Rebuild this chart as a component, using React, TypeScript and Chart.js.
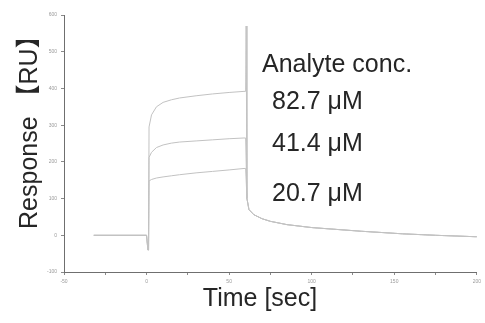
import React, { useEffect, useRef } from "react";
import { Chart, registerables } from "chart.js";

Chart.register(...registerables);

// Time axis ticks (sec) and response axis ticks (RU)
const xTickLabels = ["-50", "0", "50", "100", "150", "200"];
const yTickLabels = ["-100", "0", "100", "200", "300", "400", "500", "600"];

// Baseline before injection (sec, RU)
const baseTime = [-32, 0, 0.8, 1.2];
const baseResp = [0, 0, -40, -40];

// Association phase (sec)
const assocTime = [1.5, 3, 6, 10, 15, 20, 30, 40, 50, 59, 60];
const resp827 = [295, 328, 350, 362, 369, 374, 380, 385, 389, 392, 392];
const resp414 = [212, 226, 239, 246, 251, 254, 257, 260, 263, 265, 265];
const resp207 = [148, 152, 156, 159, 162, 165, 170, 174, 178, 182, 182];

// Injection-end spike on the top curve
const spikeTime = [60.3];
const spikeResp = [570];

// Dissociation phase (sec, RU)
const dissTime = [60.8, 62, 65, 70, 75, 85, 100, 115, 130, 155, 175, 200];
const dissResp = [100, 70, 56, 45, 38, 29, 21, 16, 11, 4, 0, -4];

const concLabels = ["82.7 \u03bcM", "41.4 \u03bcM", "20.7 \u03bcM"];
const annotationTitle = "Analyte conc.";

const FONT = 'Liberation Sans, Arial, "Noto Sans CJK JP", sans-serif';

function build(times: number[][], vals: number[][]) {
  const out: { x: number; y: number }[] = [];
  times.forEach((t, i) => t.forEach((x, j) => out.push({ x, y: vals[i][j] })));
  return out;
}

export default function App() {
  const ref = useRef<HTMLCanvasElement | null>(null);
  useEffect(() => {
    if (!ref.current) return;
    const lineColor = "#c2c2c2";
    const ds = (data: { x: number; y: number }[], label: string) => ({
      label,
      data,
      borderColor: lineColor,
      borderWidth: 1,
      pointRadius: 0,
      tension: 0,
      fill: false,
    });
    const annot = {
      id: "annot",
      afterDraw(chart: any) {
        const ctx = chart.ctx;
        ctx.save();
        ctx.fillStyle = "#262626";
        ctx.textBaseline = "alphabetic";
        ctx.textAlign = "left";
        ctx.font = `25px ${FONT}`;
        ctx.fillText(annotationTitle, 262, 72);
        ctx.fillText(concLabels[0], 272, 109);
        ctx.fillText(concLabels[1], 272, 151);
        ctx.fillText(concLabels[2], 272, 201);
        ctx.restore();
      },
    };
    const chart = new Chart(ref.current, {
      type: "line",
      data: {
        datasets: [
          ds(build([baseTime, assocTime, spikeTime, dissTime], [baseResp, resp827, spikeResp, dissResp]), concLabels[0]),
          ds(build([baseTime, assocTime, dissTime], [baseResp, resp414, dissResp]), concLabels[1]),
          ds(build([baseTime, assocTime, dissTime], [baseResp, resp207, dissResp]), concLabels[2]),
        ],
      },
      options: {
        responsive: false,
        animation: false,
        layout: { padding: { top: 15, right: 5, left: 0, bottom: 0 } },
        plugins: { legend: { display: false }, tooltip: { enabled: false } },
        scales: {
          x: {
            type: "linear",
            min: -50,
            max: 200,
            afterFit: (s: any) => { s.height = 51; },
            border: { color: "#6f6f6f", width: 1 },
            grid: { display: true, drawOnChartArea: false, drawTicks: true, tickLength: 3, color: "#8a8a8a" },
            ticks: {
              stepSize: 25,
              autoSkip: false,
              maxRotation: 0,
              padding: 4,
              color: "#9a9a9a",
              font: { size: 5, family: FONT },
              callback: (v: any) => (xTickLabels.includes(String(v)) ? String(v) : ""),
            },
            title: {
              display: true,
              text: "Time [sec]   ",
              color: "#262626",
              font: { size: 25, family: FONT },
              padding: { top: 0, bottom: 9 },
            },
          },
          y: {
            type: "linear",
            min: -100,
            max: 600,
            afterFit: (s: any) => { s.width = 64; },
            border: { color: "#6f6f6f", width: 1 },
            grid: { display: true, drawOnChartArea: false, drawTicks: true, tickLength: 3, color: "#8a8a8a" },
            ticks: {
              stepSize: 100,
              padding: 4,
              color: "#9a9a9a",
              font: { size: 5, family: FONT },
              callback: (v: any) => (yTickLabels.includes(String(v)) ? String(v) : ""),
            },
            title: {
              display: true,
              text: "     Response \u3010RU\u3011",
              color: "#262626",
              font: { size: 25, family: FONT },
              padding: { top: 15, bottom: 0 },
            },
          },
        },
      },
      plugins: [annot],
    } as any);
    return () => chart.destroy();
  }, []);
  return (
    <div style={{ position: "absolute", left: 0, top: 0, width: 485, height: 323, background: "#fff" }}>
      <canvas ref={ref} width={485} height={323} />
    </div>
  );
}
